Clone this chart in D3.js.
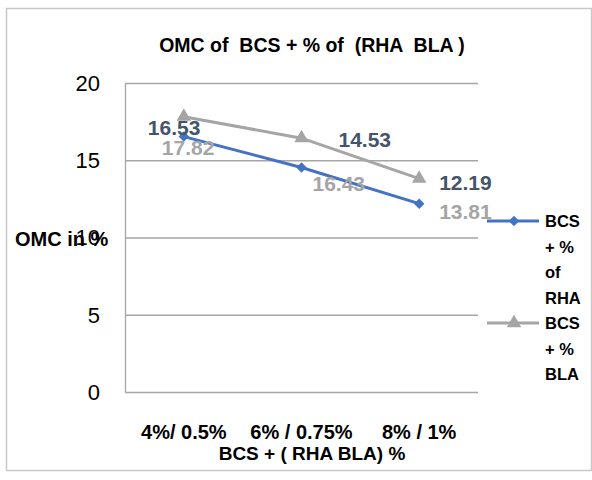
<!DOCTYPE html>
<html>
<head>
<meta charset="utf-8">
<script src="https://cdn.jsdelivr.net/npm/d3@7"></script>
<style>
  html, body { margin: 0; padding: 0; background: #fff; }
  svg { display: block; font-family: "Liberation Sans", Arial, sans-serif; }
  text { white-space: pre; }
</style>
</head>
<body>
<svg id="chart" width="592" height="480"></svg>
<script>
// ---- data ----
const categories = ["4%/ 0.5%", "6% / 0.75%", "8% / 1%"];
const rhaValues = [16.53, 14.53, 12.19];
const blaValues = [17.82, 16.43, 13.81];
const yTicks = [0, 5, 10, 15, 20];
const seriesNames = [["BCS", "+ %", "of", "RHA"], ["BCS", "+ %", "BLA"]];
const titleText = "OMC of  BCS + % of  (RHA  BLA )";
const xTitle = "BCS + ( RHA BLA) %";
const yTitle = "OMC in %";

// ---- layout / style ----
const svg = d3.select("#chart");
const plot = { left: 125, right: 478, top: 83, bottom: 392 };
const blue = "#4472C4", gray = "#A5A5A5", labelDark = "#44546A";
// label placement offsets (text start x, baseline y) relative to point
const rhaLabelOff = [[-36, -2], [37, -21], [20, -14]];
const blaLabelOff = [[-22, 38], [11, 53], [20, 40]];

// frame
svg.append("rect").attr("x", 6.5).attr("y", 8.5).attr("width", 585).attr("height", 462)
  .attr("fill", "#fff").attr("stroke", "#c8c8c8").attr("stroke-width", 1.5);

const x = d3.scaleBand().domain(categories).range([plot.left, plot.right]);
const y = d3.scaleLinear().domain([0, 20]).range([plot.bottom, plot.top]);
const cx = c => x(c) + x.bandwidth() / 2;

// gridlines
svg.append("g").selectAll("line").data(yTicks).join("line")
  .attr("x1", plot.left).attr("x2", plot.right)
  .attr("y1", d => y(d) + 0.5).attr("y2", d => y(d) + 0.5)
  .attr("stroke", "#a6a6a6").attr("stroke-width", 1.3);
// left axis line
svg.append("line").attr("x1", plot.left + 0.5).attr("x2", plot.left + 0.5)
  .attr("y1", plot.top).attr("y2", plot.bottom + 0.5)
  .attr("stroke", "#a6a6a6").attr("stroke-width", 1.3);

// y tick labels
svg.append("g").selectAll("text").data(yTicks).join("text")
  .attr("x", 100).attr("y", d => y(d)).attr("dy", "0.36em")
  .attr("text-anchor", "end").attr("font-size", 22).attr("fill", "#000")
  .text(d => d);

// x tick labels
svg.append("g").selectAll("text").data(categories).join("text")
  .attr("x", c => cx(c)).attr("y", 439)
  .attr("text-anchor", "middle").attr("font-size", 20).attr("font-weight", "bold")
  .attr("fill", "#000").text(c => c);

// axis titles
svg.append("text").attr("x", 312).attr("y", 460).attr("text-anchor", "middle")
  .attr("font-size", 19).attr("font-weight", "bold").text(xTitle);
svg.append("text").attr("x", 15).attr("y", 246)
  .attr("font-size", 20).attr("font-weight", "bold").text(yTitle);

// title
svg.append("text").attr("x", 312).attr("y", 52).attr("text-anchor", "middle")
  .attr("font-size", 19.5).attr("font-weight", "bold").text(titleText);

// lines
const line = d3.line().x((d, i) => cx(categories[i])).y(d => y(d));
const diamond = d3.symbol().type(d3.symbolDiamond2).size(70);
const triangle = d3.symbol().type(d3.symbolTriangle).size(90);

svg.append("path").datum(blaValues).attr("d", line)
  .attr("fill", "none").attr("stroke", gray).attr("stroke-width", 3);
svg.append("g").selectAll("path").data(blaValues).join("path")
  .attr("d", triangle).attr("fill", gray)
  .attr("transform", (d, i) => `translate(${cx(categories[i])},${y(d)})`);

svg.append("path").datum(rhaValues).attr("d", line)
  .attr("fill", "none").attr("stroke", blue).attr("stroke-width", 3);
svg.append("g").selectAll("path").data(rhaValues).join("path")
  .attr("d", diamond).attr("fill", blue)
  .attr("transform", (d, i) => `translate(${cx(categories[i])},${y(d)})`);

// data labels
svg.append("g").selectAll("text").data(rhaValues).join("text")
  .attr("x", (d, i) => cx(categories[i]) + rhaLabelOff[i][0])
  .attr("y", (d, i) => y(d) + rhaLabelOff[i][1])
  .attr("font-size", 21).attr("font-weight", "bold").attr("fill", labelDark)
  .text(d => d.toFixed(2));
svg.append("g").selectAll("text").data(blaValues).join("text")
  .attr("x", (d, i) => cx(categories[i]) + blaLabelOff[i][0])
  .attr("y", (d, i) => y(d) + blaLabelOff[i][1])
  .attr("font-size", 21).attr("font-weight", "bold").attr("fill", gray)
  .text(d => d.toFixed(2));

// legend
const legendItems = [
  { name: seriesNames[0], color: blue, sym: diamond, y: 221 },
  { name: seriesNames[1], color: gray, sym: triangle, y: 323 }
];
const lg = svg.append("g").selectAll("g").data(legendItems).join("g");
lg.append("line").attr("x1", 487).attr("x2", 539)
  .attr("y1", d => d.y).attr("y2", d => d.y)
  .attr("stroke", d => d.color).attr("stroke-width", 3);
lg.append("path").attr("d", d => d.sym()).attr("fill", d => d.color)
  .attr("transform", d => `translate(514,${d.y})`);
lg.append("text").attr("x", 545).attr("y", d => d.y)
  .attr("font-size", 16.5).attr("font-weight", "bold").attr("fill", "#000")
  .selectAll("tspan").data(d => d.name).join("tspan")
  .attr("x", 545).attr("dy", (t, i) => i === 0 ? "0.36em" : 25.6)
  .text(t => t);
</script>
</body>
</html>
